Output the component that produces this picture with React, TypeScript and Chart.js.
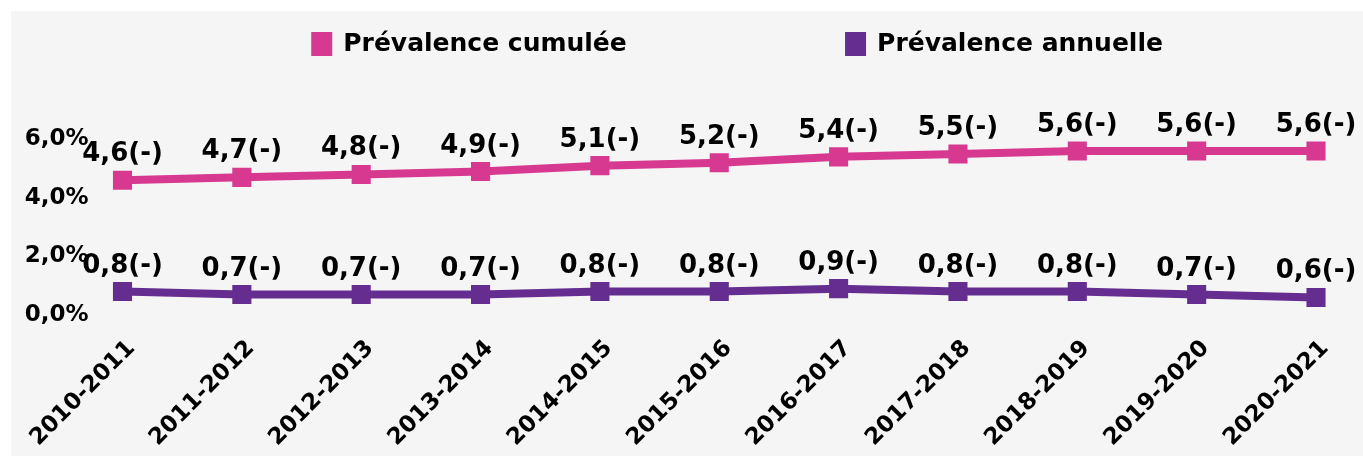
import { useEffect, useRef } from 'react';
import { Chart, registerables } from 'chart.js';

Chart.register(...registerables);

const categories = [
  '2010-2011', '2011-2012', '2012-2013', '2013-2014', '2014-2015', '2015-2016',
  '2016-2017', '2017-2018', '2018-2019', '2019-2020', '2020-2021',
];
const cumulativeValues = [4.6, 4.7, 4.8, 4.9, 5.1, 5.2, 5.4, 5.5, 5.6, 5.6, 5.6];
const annualValues = [0.8, 0.7, 0.7, 0.7, 0.8, 0.8, 0.9, 0.8, 0.8, 0.7, 0.6];
const yTickValues = [0, 2, 4, 6];
const seriesNames = ['Prévalence cumulée', 'Prévalence annuelle'];
const seriesColors = ['#D6398F', '#662D91'];

const FONT = "'DejaVu Sans', sans-serif";
const fmt = (v: number) => v.toFixed(1).replace('.', ',');

const legendPlugin = {
  id: 'customLegend',
  afterDraw(chart: any) {
    const ctx = chart.ctx;
    const centers = [458, 993];
    ctx.save();
    ctx.font = `bold 25px ${FONT}`;
    ctx.textBaseline = 'middle';
    ctx.textAlign = 'left';
    chart.data.datasets.forEach((ds: any, i: number) => {
      const textW = ctx.measureText(ds.label).width;
      const itemW = 21 + 11 + textW;
      const x = centers[i] - itemW / 2;
      const y = 21;
      ctx.fillStyle = ds.borderColor;
      ctx.fillRect(x, y, 21, 24);
      ctx.fillStyle = '#000';
      ctx.fillText(ds.label, x + 32, y + 12);
    });
    ctx.restore();
  },
};

const valueLabelPlugin = {
  id: 'valueLabels',
  afterDatasetsDraw(chart: any) {
    const ctx = chart.ctx;
    ctx.save();
    ctx.font = `bold 26px ${FONT}`;
    ctx.fillStyle = '#000';
    ctx.textAlign = 'center';
    ctx.textBaseline = 'alphabetic';
    chart.data.datasets.forEach((ds: any, di: number) => {
      const meta = chart.getDatasetMeta(di);
      meta.data.forEach((pt: any, i: number) => {
        ctx.fillText(fmt(ds.data[i]) + '(-)', pt.x, pt.y - 19);
      });
    });
    ctx.restore();
  },
};

export default function App() {
  const canvasRef = useRef<HTMLCanvasElement | null>(null);

  useEffect(() => {
    if (!canvasRef.current) return;
    const chart = new Chart(canvasRef.current, {
      type: 'line',
      data: {
        labels: categories,
        datasets: [
          {
            label: seriesNames[0],
            data: cumulativeValues,
            borderColor: seriesColors[0],
            backgroundColor: seriesColors[0],
            borderWidth: 8,
            pointStyle: 'rect',
            pointRadius: 13.5,
            pointBorderWidth: 0,
            tension: 0,
          },
          {
            label: seriesNames[1],
            data: annualValues,
            borderColor: seriesColors[1],
            backgroundColor: seriesColors[1],
            borderWidth: 8,
            pointStyle: 'rect',
            pointRadius: 13.5,
            pointBorderWidth: 0,
            tension: 0,
          },
        ],
      },
      options: {
        responsive: true,
        maintainAspectRatio: false,
        animation: false,
        layout: { padding: { top: 99, left: 0, right: 47, bottom: 0 } },
        plugins: {
          legend: { display: false },
          tooltip: { enabled: false },
        },
        scales: {
          x: {
            offset: false,
            grid: { display: false, drawTicks: false },
            border: { display: false },
            afterFit: (scale: any) => {
              scale.paddingLeft = 0;
              scale.paddingRight = 0;
              scale.height = 141;
            },
            ticks: {
              color: '#000',
              font: { family: FONT, size: 23, weight: 'bold' },
              minRotation: 45,
              maxRotation: 45,
              padding: 20,
              labelOffset: 9,
              autoSkip: false,
            },
          },
          y: {
            min: 0,
            max: 7,
            grid: { display: false, drawTicks: false },
            border: { display: false },
            afterBuildTicks: (axis: any) => {
              axis.ticks = yTickValues.map((v) => ({ value: v }));
            },
            afterFit: (scale: any) => {
              scale.width = 111.5;
            },
            ticks: {
              color: '#000',
              font: { family: FONT, size: 23, weight: 'bold' },
              padding: 34,
              includeBounds: false,
              callback: (v: any) => fmt(Number(v)) + '%',
            },
          },
        },
      },
      plugins: [legendPlugin, valueLabelPlugin],
    });
    return () => chart.destroy();
  }, []);

  return (
    <div
      style={{
        position: 'absolute',
        left: 11,
        top: 11,
        width: 1352,
        height: 445,
        background: '#f5f5f5',
      }}
    >
      <canvas ref={canvasRef} />
    </div>
  );
}
